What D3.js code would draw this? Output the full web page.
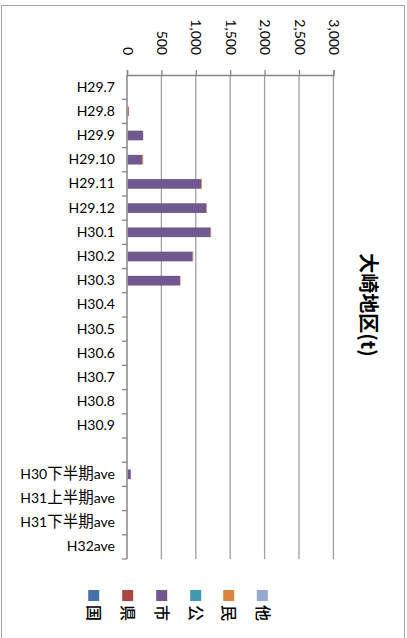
<!DOCTYPE html>
<html>
<head>
<meta charset="utf-8">
<script src="https://cdn.jsdelivr.net/npm/d3@7"></script>
<style>
  html, body { margin: 0; padding: 0; background: #fff; }
  svg { display: block; }
  text { font-family: "Lato", "Noto Sans CJK JP", sans-serif; fill: #000; }
</style>
</head>
<body>
<script>
// ---- data ----
const categories = ["H29.7","H29.8","H29.9","H29.10","H29.11","H29.12","H30.1","H30.2","H30.3",
  "H30.4","H30.5","H30.6","H30.7","H30.8","H30.9"," ","H30下半期ave","H31上半期ave","H31下半期ave","H32ave"];
const seriesNames = ["国","県","市","公","民","他"];
const seriesColors = ["#4572A7","#AA4643","#71588F","#4198AF","#DB843D","#93A9CF"];
const kuni = [0,0,0,0,0,0,0,0,0,0,0,0,0,0,0,0,0,0,0,0];
const ken  = [0,15,0,0,0,0,0,0,0,0,0,0,0,0,0,0,0,0,0,0];
const shi  = [0,0,225,210,1070,1145,1205,945,760,0,0,0,0,0,0,0,45,0,0,0];
const kou  = [0,0,0,0,0,0,0,0,0,0,0,0,0,0,0,0,0,0,0,0];
const min  = [0,0,0,15,10,8,8,8,8,0,0,0,0,0,0,0,0,0,0,0];
const hoka = [0,0,0,0,0,0,0,0,0,0,0,0,0,0,0,0,0,0,0,0];
const xTicks = [0,500,1000,1500,2000,2500,3000];
const title = "大崎地区(t)";

// ---- layout ----
const W = 407, H = 638;
const svg = d3.select("body").append("svg").attr("width", W).attr("height", H);

// outer frame
svg.append("rect").attr("x", 1.5).attr("y", 5.5).attr("width", 403).attr("height", 640)
  .attr("fill", "#fff").attr("stroke", "#a6a6a6").attr("stroke-width", 1);

const seriesArrays = [kuni, ken, shi, kou, min, hoka];
const rows = categories.map((c, i) => {
  const r = { cat: c };
  seriesNames.forEach((s, j) => r[s] = seriesArrays[j][i]);
  return r;
});

const x = d3.scaleLinear().domain([0, 3000]).range([127, 333.4]);
const y = d3.scaleBand().domain(categories).range([75, 559]).paddingInner(0.6).paddingOuter(0.3);

// gridlines
svg.append("g").selectAll("line").data(xTicks.slice(1)).join("line")
  .attr("x1", d => x(d)).attr("x2", d => x(d))
  .attr("y1", 75).attr("y2", 559)
  .attr("stroke", "#a0a0a0").attr("stroke-width", 1.3);

// bars
const stack = d3.stack().keys(seriesNames);
const stacked = stack(rows);
svg.append("g").selectAll("g").data(stacked).join("g")
  .attr("fill", (d, i) => seriesColors[i])
  .selectAll("rect").data(d => d.filter(p => p[1] - p[0] > 0)).join("rect")
  .attr("x", d => x(d[0]) + 0.7)
  .attr("width", d => x(d[1]) - x(d[0]))
  .attr("y", d => y(d.data.cat))
  .attr("height", y.bandwidth());

// top axis
const xAxis = d3.axisTop(x).tickValues(xTicks).tickSize(5).tickFormat(d3.format(","));
const gx = svg.append("g").attr("transform", "translate(0,75)").call(xAxis);
gx.select(".domain").attr("stroke", "#868686").attr("stroke-width", 1.5);
gx.selectAll(".tick line").attr("stroke", "#868686").attr("stroke-width", 1.3);
gx.selectAll(".tick text")
  .attr("transform", "rotate(90)")
  .attr("x", -20).attr("y", 0).attr("dy", "0.35em")
  .attr("text-anchor", "end")
  .style("font-size", "14px");

// left axis
const yAxis = d3.axisLeft(y).tickSize(0).tickPadding(12);
const gy = svg.append("g").attr("transform", "translate(127,0)").call(yAxis);
gy.select(".domain").remove();
gy.selectAll(".tick text").style("font-size", "14px").each(function(d) {
  const t = d3.select(this);
  t.text(null);
  const parts = d.match(/[\u3000-\u9fff]+|[^\u3000-\u9fff]+/g) || [];
  parts.forEach(p => {
    const cjk = /[\u3000-\u9fff]/.test(p);
    t.append("tspan").text(p).style("font-size", cjk ? "15.5px" : "14px");
  });
});
svg.append("line").attr("x1", 127).attr("x2", 127).attr("y1", 75).attr("y2", 559)
  .attr("stroke", "#868686").attr("stroke-width", 1.5);
const bounds = d3.range(categories.length + 1).map(i => y.range()[0] + i * (y.range()[1] - y.range()[0]) / categories.length);
svg.append("g").selectAll("line").data(bounds.slice(1)).join("line")
  .attr("x1", 122).attr("x2", 127).attr("y1", d => d).attr("y2", d => d)
  .attr("stroke", "#868686").attr("stroke-width", 1.3);

// title
svg.append("text").attr("transform", "translate(368,305) rotate(90)")
  .attr("text-anchor", "middle").attr("dy", "0.35em")
  .style("font-size", "20px").style("font-weight", "bold")
  .style("font-family", "'Noto Sans CJK JP', sans-serif")
  .text(title);

// legend
const legendX = [93.7, 127.7, 161.7, 195.7, 228.7, 262.3];
const lg = svg.append("g").selectAll("g").data(seriesNames).join("g")
  .attr("transform", (d, i) => `translate(${legendX[i]},0)`);
lg.append("rect").attr("x", -5.5).attr("y", 590).attr("width", 11).attr("height", 11)
  .attr("fill", (d, i) => seriesColors[i]);
lg.append("text").attr("transform", "translate(0,613) rotate(90)")
  .attr("text-anchor", "middle").attr("dy", "0.35em")
  .style("font-size", "16px").style("font-weight", "500")
  .text(d => d);
</script>
</body>
</html>
